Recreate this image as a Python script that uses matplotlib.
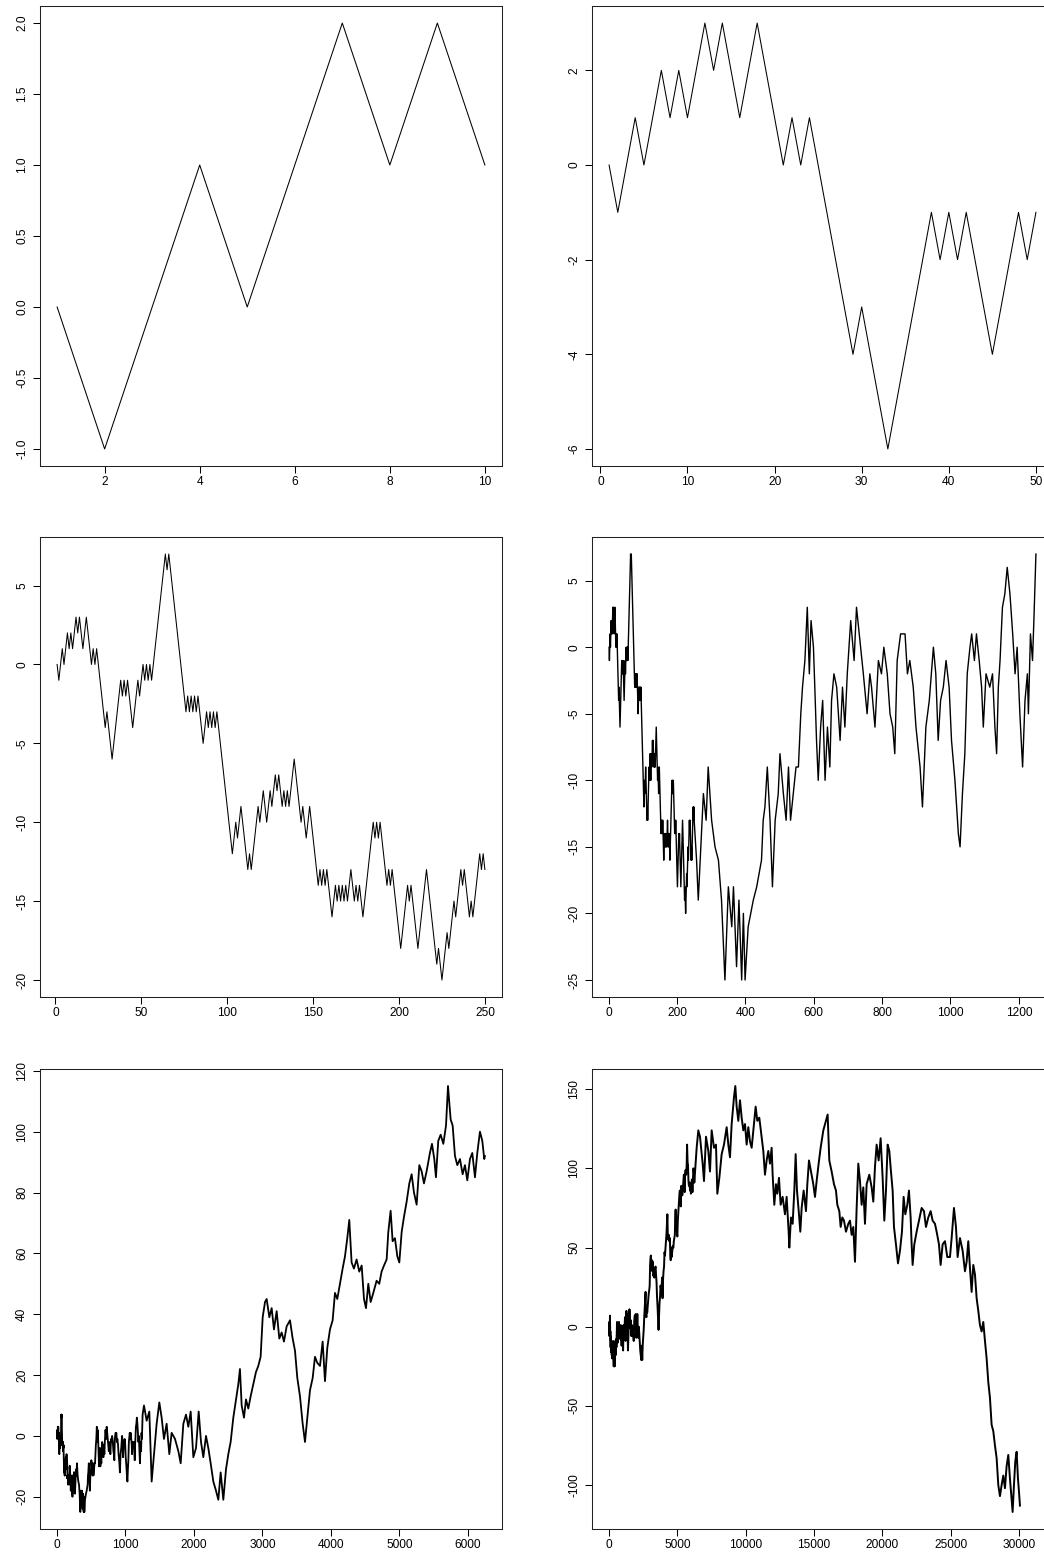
import matplotlib
matplotlib.use("Agg")
import matplotlib.pyplot as plt
import numpy as np

plt.rcParams['font.family'] = ['Liberation Sans', 'DejaVu Sans']
plt.rcParams['axes.unicode_minus'] = False

# DATA
# one +-1 random walk; every panel shows a longer prefix of the same walk
n_steps = [10, 50, 250, 1250, 6250, 31250]

# first 50 steps, read exactly (panel 1 uses the first 10)
walk_start = [0, -1, 0, 1, 0, 1, 2, 1, 2, 1,
              2, 3, 2, 3, 2, 1, 2, 3, 2, 1,
              0, 1, 0, 1, 0, -1, -2, -3, -4, -3,
              -4, -5, -6, -5, -4, -3, -2, -1, -2, -1,
              -2, -1, -2, -3, -4, -3, -2, -1, -2, -1]

p3_x = [51, 52, 53, 54, 55, 56, 57, 64, 65, 66, 76, 77, 78, 79, 80, 81, 82, 83, 86, 88,
        89, 90, 91, 92, 93, 94, 103, 105, 106, 108, 112, 113, 114, 118, 119, 121, 123, 125, 126, 128,
        129, 130, 132, 133, 134, 135, 136, 139, 143, 144, 146, 148, 153, 154, 155, 156, 157, 158, 161, 163,
        164, 165, 166, 167, 168, 169, 170, 172, 174, 175, 176, 177, 179, 185, 186, 187, 188, 189, 193, 194,
        195, 196, 201, 205, 206, 207, 211, 216, 221, 222, 223, 225, 228, 229, 230, 232, 233, 234, 236, 237,
        238, 241, 242, 243, 247, 248, 249, 250]
p3_y = [0, -1, 0, -1, 0, -1, 0, 7, 6, 7, -3, -2, -3, -2, -3, -2, -3, -2, -5, -3,
        -4, -3, -4, -3, -4, -3, -12, -10, -11, -9, -13, -12, -13, -9, -10, -8, -10, -8, -9, -7,
        -8, -7, -9, -8, -9, -8, -9, -6, -10, -9, -11, -9, -14, -13, -14, -13, -14, -13, -16, -14,
        -15, -14, -15, -14, -15, -14, -15, -13, -15, -14, -15, -14, -16, -10, -11, -10, -11, -10, -14, -13,
        -14, -13, -18, -14, -15, -14, -18, -13, -18, -19, -18, -20, -17, -18, -17, -15, -16, -15, -13, -14,
        -13, -16, -15, -16, -12, -13, -12, -13]

p4_x = [257, 262, 277, 285, 291, 301, 311, 321, 330, 340, 350, 360, 365, 374, 381, 389, 394, 399, 408, 423,
        433, 447, 452, 457, 464, 472, 479, 487, 496, 501, 511, 519, 526, 532, 540, 548, 555, 562, 567, 574,
        581, 587, 592, 599, 603, 608, 613, 620, 626, 633, 640, 647, 652, 659, 667, 677, 684, 691, 698, 708,
        718, 725, 737, 745, 756, 764, 769, 779, 789, 798, 805, 815, 823, 831, 837, 844, 854, 867, 874, 881,
        891, 899, 911, 918, 928, 938, 950, 957, 964, 971, 979, 987, 996, 1003, 1013, 1023, 1028, 1035, 1042, 1049,
        1057, 1062, 1070, 1076, 1084, 1091, 1096, 1104, 1115, 1123, 1130, 1135, 1140, 1145, 1152, 1159, 1166, 1174, 1182, 1189,
        1195, 1203, 1211, 1218, 1225, 1228, 1234, 1240, 1244, 1250]
p4_y = [-16, -19, -11, -13, -9, -13, -15, -16, -19, -25, -18, -21, -18, -24, -19, -25, -20, -25, -21, -19,
        -18, -16, -13, -12, -9, -13, -18, -13, -11, -8, -11, -13, -9, -13, -11, -9, -9, -5, -3, -1,
        3, -2, 2, 0, -3, -7, -10, -6, -4, -10, -6, -9, -4, -2, -3, -7, -3, -6, -2, 2,
        -1, 3, 0, -2, -5, -2, -3, -6, -1, -2, 0, -2, -5, -6, -8, -1, 1, 1, -2, -1,
        -3, -6, -9, -12, -6, -4, 0, -2, -7, -4, -3, -1, -3, -7, -10, -14, -15, -11, -8, -2,
        0, 1, -1, 1, -1, -3, -6, -2, -3, -2, -6, -8, -3, -1, 3, 4, 6, 4, 1, -2,
        0, -5, -9, -4, -2, -5, 1, -1, 2, 7]

p5_x = [1270, 1309, 1348, 1382, 1416, 1455, 1494, 1528, 1562, 1601, 1640, 1674, 1723, 1772, 1806, 1845, 1884, 1918, 1952, 1991,
        2030, 2069, 2103, 2137, 2176, 2210, 2244, 2283, 2322, 2356, 2390, 2429, 2468, 2502, 2536, 2575, 2614, 2648, 2672, 2697,
        2731, 2760, 2794, 2828, 2867, 2906, 2940, 2974, 3004, 3038, 3062, 3101, 3135, 3169, 3208, 3247, 3281, 3315, 3354, 3403,
        3442, 3476, 3510, 3549, 3588, 3622, 3656, 3695, 3734, 3768, 3802, 3841, 3880, 3914, 3948, 3987, 4026, 4060, 4094, 4133,
        4172, 4206, 4240, 4269, 4303, 4337, 4376, 4415, 4450, 4484, 4513, 4547, 4581, 4620, 4668, 4707, 4741, 4776, 4815, 4839,
        4873, 4902, 4936, 4971, 5000, 5034, 5068, 5107, 5146, 5180, 5214, 5253, 5292, 5326, 5360, 5399, 5447, 5477, 5511, 5535,
        5569, 5604, 5643, 5682, 5711, 5750, 5779, 5813, 5847, 5886, 5925, 5959, 5993, 6032, 6066, 6105, 6139, 6178, 6212, 6241,
        6250]
p5_y = [10, 5, 8, -15, -6, 4, 11, 6, -1, 4, -6, 1, -1, -5, -9, 4, 7, 3, 8, -7,
        -4, 8, -2, -7, 0, -4, -9, -15, -18, -21, -12, -21, -11, -6, -2, 6, 12, 17, 22, 10,
        6, 12, 9, 13, 17, 21, 23, 26, 39, 44, 45, 39, 42, 35, 41, 32, 34, 31, 36, 38,
        32, 28, 19, 13, 4, -2, 6, 15, 19, 26, 24, 23, 31, 18, 29, 35, 38, 47, 45, 50,
        55, 59, 65, 71, 57, 55, 58, 54, 56, 45, 42, 50, 44, 47, 51, 50, 54, 56, 58, 67,
        74, 64, 65, 59, 57, 67, 72, 77, 83, 86, 80, 76, 89, 87, 83, 87, 93, 96, 91, 85,
        97, 99, 96, 102, 115, 104, 102, 92, 89, 91, 86, 89, 84, 91, 93, 85, 93, 100, 97, 91,
        92]

p6_x = [6413, 6535, 6657, 6852, 6950, 7096, 7267, 7389, 7511, 7682, 7828, 7926, 8073, 8243, 8414, 8609, 8731, 8853, 8975, 9146,
        9243, 9341, 9463, 9585, 9707, 9829, 9951, 10073, 10195, 10317, 10439, 10731, 10853, 10999, 11166, 11292, 11414, 11536, 11658, 11780,
        11902, 11975, 12097, 12219, 12317, 12439, 12561, 12707, 12878, 13000, 13147, 13196, 13318, 13440, 13562, 13660, 13757, 13904, 14001, 14099,
        14245, 14416, 14514, 14636, 14782, 14953, 15075, 15197, 15343, 15489, 15685, 15880, 16002, 16124, 16295, 16466, 16612, 16710, 16856, 16954,
        17076, 17198, 17344, 17515, 17637, 17759, 17881, 18003, 18125, 18247, 18369, 18491, 18613, 18735, 18857, 19052, 19223, 19345, 19467, 19589,
        19735, 19882, 20028, 20150, 20272, 20394, 20516, 20638, 20760, 20858, 21004, 21151, 21297, 21443, 21565, 21687, 21834, 21956, 22078, 22151,
        22224, 22346, 22517, 22688, 22883, 23053, 23200, 23371, 23542, 23688, 23859, 23981, 24152, 24274, 24420, 24591, 24762, 24957, 25079, 25250,
        25396, 25518, 25689, 25884, 26055, 26177, 26299, 26421, 26543, 26665, 26787, 26909, 27031, 27153, 27275, 27397, 27519, 27641, 27763, 27885,
        28007, 28129, 28251, 28373, 28495, 28617, 28739, 28861, 28983, 29105, 29227, 29349, 29471, 29544, 29642, 29739, 29837, 29935, 30008, 30081]
p6_y = [113, 124, 120, 103, 92, 120, 111, 98, 124, 113, 115, 84, 94, 109, 115, 126, 115, 107, 128, 145,
        152, 139, 130, 143, 132, 124, 128, 115, 126, 117, 113, 139, 130, 132, 120, 111, 96, 105, 111, 103,
        113, 96, 77, 90, 84, 94, 77, 82, 71, 82, 60, 50, 69, 65, 86, 109, 86, 71, 60, 75,
        86, 73, 90, 105, 98, 90, 82, 92, 103, 113, 124, 130, 134, 105, 98, 90, 86, 77, 73, 63,
        69, 67, 60, 65, 67, 58, 63, 41, 75, 103, 92, 77, 88, 65, 90, 96, 88, 79, 101, 115,
        105, 119, 94, 67, 86, 115, 111, 98, 86, 63, 52, 40, 48, 60, 82, 71, 77, 86, 69, 52,
        39, 52, 60, 67, 75, 73, 63, 69, 73, 67, 65, 60, 52, 39, 52, 54, 44, 44, 56, 75,
        63, 44, 56, 48, 35, 41, 54, 37, 22, 39, 33, 18, 10, 1, -3, 3, -9, -20, -35, -45,
        -62, -66, -75, -83, -100, -107, -100, -94, -102, -88, -81, -96, -109, -117, -100, -85, -79, -96, -104, -113]

x_ticks = [[2, 4, 6, 8, 10],
           [0, 10, 20, 30, 40, 50],
           [0, 50, 100, 150, 200, 250],
           [0, 200, 400, 600, 800, 1000, 1200],
           [0, 1000, 2000, 3000, 4000, 5000, 6000],
           [0, 5000, 10000, 15000, 20000, 25000, 30000]]
y_ticks = [[-1.0, -0.5, 0.0, 0.5, 1.0, 1.5, 2.0],
           [-6, -4, -2, 0, 2],
           [-20, -15, -10, -5, 0, 5],
           [-25, -20, -15, -10, -5, 0, 5],
           [-20, 0, 20, 40, 60, 80, 100, 120],
           [-100, -50, 0, 50, 100, 150]]
y_labels = [["-1.0", "-0.5", "0.0", "0.5", "1.0", "1.5", "2.0"],
            None, None, None, None, None]

# BUILDING THE PANEL SERIES
xs = []
ys = []
xs.append(list(range(1, 11)))
ys.append(walk_start[:10])
xs.append(list(range(1, 51)))
ys.append(walk_start)
for cx, cy in [(p3_x, p3_y), (p4_x, p4_y), (p5_x, p5_y), (p6_x, p6_y)]:
    xs.append(xs[-1] + cx)
    ys.append(ys[-1] + cy)

# DRAWING
W, H = 1044, 1562
fig = plt.figure(figsize=(W / 100, H / 100), dpi=100)
lefts = [40, 592]
widths = [462, 461]
tops = [6, 537, 1069]
box_h = 460
line_w = [0.75, 0.75, 0.75, 1.0, 1.3, 1.4]  # dense walks look heavier in the original

for i in range(6):
    col = i % 2
    row = i // 2
    ax = fig.add_axes([lefts[col] / W, 1 - (tops[row] + box_h) / H, widths[col] / W, box_h / H])
    ax.plot(xs[i], ys[i], color="black", lw=line_w[i])
    n = n_steps[i]
    ax.set_xlim(1 - 0.04 * (n - 1), n + 0.04 * (n - 1))
    ax.margins(y=0.04)
    ax.set_xticks(x_ticks[i])
    ax.set_yticks(y_ticks[i])
    if y_labels[i] is not None:
        ax.set_yticklabels(y_labels[i])
    ax.tick_params(direction="out", length=5, width=0.75, labelsize=8.6, colors="black")
    ax.tick_params(axis="x", pad=2.5)
    ax.tick_params(axis="y", pad=3.5, labelrotation=90)
    plt.setp(ax.get_yticklabels(), va="center")
    for s in ax.spines.values():
        s.set_linewidth(0.75)
        s.set_color("#222222")

fig.savefig("out.png", dpi=100)
